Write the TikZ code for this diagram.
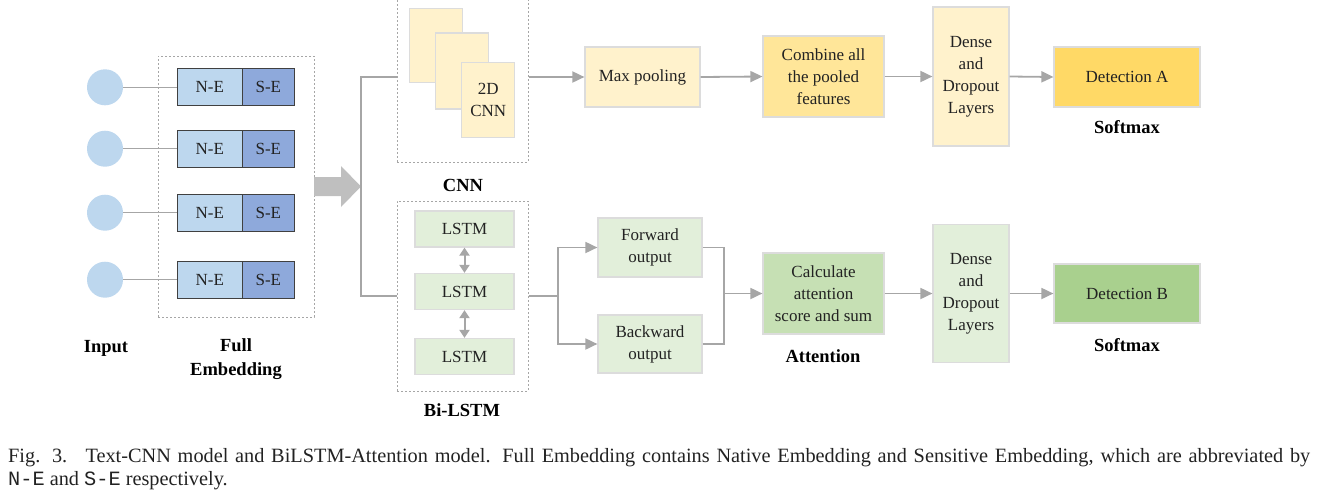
\documentclass[tikz,border=0pt]{standalone}
\usepackage{fontspec}
\setmainfont{Liberation Serif}
\setmonofont{Liberation Mono}
\usetikzlibrary{arrows.meta}
\definecolor{circ}{HTML}{BDD7EE}
\definecolor{necol}{HTML}{BDD7EE}
\definecolor{secol}{HTML}{8EA9DB}
\definecolor{ylight}{HTML}{FFF2CC}
\definecolor{ymid}{HTML}{FFE699}
\definecolor{ydark}{HTML}{FFD966}
\definecolor{glight}{HTML}{E2EFDA}
\definecolor{gmid}{HTML}{C6E0B4}
\definecolor{gdark}{HTML}{A9D08E}
\definecolor{boxline}{HTML}{DCDCDC}
\definecolor{conncol}{HTML}{A6A6A6}
\definecolor{dashcol}{HTML}{A6A6A6}
\definecolor{bigarrow}{HTML}{BFBFBF}
\definecolor{txt}{HTML}{222222}
\begin{document}
\begin{tikzpicture}[x=1pt,y=-1pt,
  box/.style={draw=boxline, line width=1.2pt, inner sep=0pt, align=center,
    text=txt, font=\fontsize{17}{22}\selectfont},
  embox/.style={draw=black!75, line width=1.2pt, inner sep=0pt, text=txt,
    minimum height=37pt, font=\fontsize{17}{22}\selectfont},
  lbl/.style={inner sep=0pt, align=center, text=black,
    font=\bfseries\fontsize{18.5}{23.5}\selectfont},
  conn/.style={draw=conncol, line width=1.8pt},
  arr/.style={conn, -{Triangle[length=12pt,width=11pt]}},
  darr/.style={draw=conncol, line width=2pt,
    {Triangle[length=8pt,width=10pt]}-{Triangle[length=8pt,width=10pt]}},
  thinconn/.style={draw=conncol, line width=1.3pt},
  groupbox/.style={draw=dashcol, line width=1pt, dash pattern=on 2pt off 2pt,
    inner sep=0pt}
]
\useasboundingbox (0,0) rectangle (1319,501);

% ---------- Input circles ----------
\foreach \i/\y in {1/87.3,2/148.7,3/212.7,4/279.7}{
  \node[circle, fill=circ, minimum size=36pt, inner sep=0pt] (c\i) at (105,\y) {};
  \node[embox, fill=necol, minimum width=65pt] (ne\i) at (209.8,\y) {N-E};
  \node[embox, fill=secol, minimum width=52pt] (se\i) at (268.3,\y) {S-E};
  \draw[thinconn] (c\i.east) -- (ne\i.west);
}
\node[groupbox, minimum width=156pt, minimum height=261pt] (fe) at (236,186.5) {};
\node[lbl] (inlbl) at (106,348) {Input};
\node[lbl] (felbl) at (236,359) {Full\\Embedding};

% ---------- big arrow ----------
\fill[bigarrow] (314,177) -- (341,177) -- (341,166) -- (361,186.5) -- (341,207)
  -- (341,196) -- (314,196) -- cycle;
\coordinate (bk) at (361,186.5);

% ---------- CNN ----------
\node[groupbox, minimum width=131pt, minimum height=170pt] (cnnbox) at (462.5,77) {};
\node[box, fill=ylight, minimum width=53pt, minimum height=74pt] (card1) at (436,45.5) {};
\node[box, fill=ylight, minimum width=53pt, minimum height=76pt] (card2) at (462,71) {};
\node[box, fill=ylight, minimum width=53pt, minimum height=75pt] (card3) at (488.3,100) {2D\\CNN};
\node[lbl] (cnnlbl) at (463,185) {CNN};

\draw[conn] (cnnbox.west) -| (bk);

\node[box, fill=ylight, minimum width=115pt, minimum height=60pt] (maxp) at (642.5,77) {Max pooling};
\node[box, fill=ymid, minimum width=121pt, minimum height=81pt] (comb) at (823.5,76.5) {Combine all\\the pooled\\features};
\node[box, fill=ylight, minimum width=76pt, minimum height=139pt] (dense1) at (971,76.5) {Dense\\and\\Dropout\\Layers};
\node[box, fill=ydark, minimum width=146pt, minimum height=60pt] (deta) at (1127,77) {Detection A};
\node[lbl] (sm1) at (1127,127) {Softmax};

\draw[arr] (cnnbox.east) -- (maxp.west);
\draw[arr] (maxp.east) -- (comb.west);
\draw[arr] (comb.east) -- (dense1.west);
\draw[arr] (dense1.east) -- (deta.west);

% ---------- Bi-LSTM ----------
\node[groupbox, minimum width=131pt, minimum height=190pt] (lstmbox) at (462.5,296) {};
\node[box, fill=glight, minimum width=99pt, minimum height=36pt] (l1) at (464.5,229) {LSTM};
\node[box, fill=glight, minimum width=99pt, minimum height=36pt] (l2) at (464.5,291.5) {LSTM};
\node[box, fill=glight, minimum width=99pt, minimum height=36pt] (l3) at (464.5,356.5) {LSTM};
\draw[darr] (l1.south) -- (l2.north);
\draw[darr] (l2.south) -- (l3.north);
\node[lbl] (bilbl) at (462,410) {Bi-LSTM};

\draw[conn] (lstmbox.west) -| (bk);

\node[box, fill=glight, minimum width=104pt, minimum height=59pt] (fwd) at (650,247.5) {Forward\\output};
\node[box, fill=glight, minimum width=104pt, minimum height=58pt] (bwd) at (650,344) {Backward\\output};
\coordinate (sp) at (558,296);
\draw[conn] (lstmbox.east) -- (sp);
\draw[arr] (sp) |- (fwd.west);
\draw[arr] (sp) |- (bwd.west);

\node[box, fill=gmid, minimum width=121pt, minimum height=81pt] (calc) at (823.5,293.5) {Calculate\\attention\\score and sum};
\node[lbl] (attlbl) at (823,356) {Attention};
\coordinate (mg) at (724,293.5);
\draw[conn] (fwd.east) -| (mg);
\draw[conn] (bwd.east) -| (mg);
\draw[arr] (mg) -- (calc.west);

\node[box, fill=glight, minimum width=76pt, minimum height=138pt] (dense2) at (971,293.5) {Dense\\and\\Dropout\\Layers};
\node[box, fill=gdark, minimum width=146pt, minimum height=59pt] (detb) at (1127,293.5) {Detection B};
\node[lbl] (sm2) at (1127,345) {Softmax};
\draw[arr] (calc.east) -- (dense2.west);
\draw[arr] (dense2.east) -- (detb.west);

% ---------- caption ----------
\node[anchor=base west, inner sep=0pt, text=txt] (cap1) at (8,462)
  {\fontsize{20.3}{23}\selectfont\makebox[1302pt][s]{Fig. 3.\hspace{0.9em}Text-CNN model and BiLSTM-Attention model. Full Embedding contains Native Embedding and Sensitive Embedding, which are abbreviated by}};
\node[anchor=base west, inner sep=0pt, text=txt] (cap2) at (8,485)
  {\fontsize{20.3}{23}\selectfont\texttt{N-E} and \texttt{S-E} respectively.};
\end{tikzpicture}
\end{document}
